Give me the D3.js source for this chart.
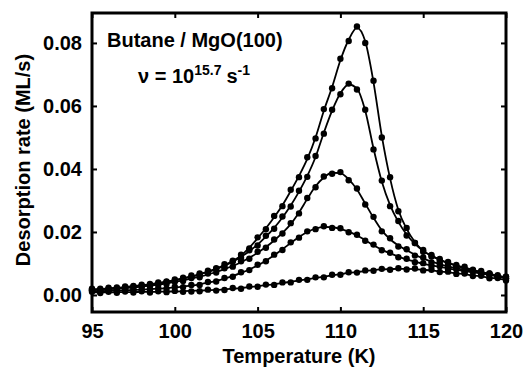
<!DOCTYPE html>
<html>
<head>
<meta charset="utf-8">
<script src="https://cdn.jsdelivr.net/npm/d3@7"></script>
<style>
  body { margin: 0; background: #fff; }
  text { font-family: "Liberation Sans", Arial, sans-serif; font-weight: bold; }
</style>
</head>
<body>
<div id="chart"></div>
<script>
// Temperature grid (K)
const temps = [95, 95.5, 96, 96.5, 97, 97.5, 98, 98.5, 99, 99.5,
  100, 100.5, 101, 101.5, 102, 102.5, 103, 103.5, 104, 104.5,
  105, 105.5, 106, 106.5, 107, 107.5, 108, 108.5, 109, 109.5,
  110, 110.5, 111, 111.5, 112, 112.5, 113, 113.5, 114, 114.5,
  115, 115.5, 116, 116.5, 117, 117.5, 118, 118.5, 119, 119.5, 120];

// Fitted desorption rate (ML/s), one array per coverage
const fit1 = [.0018, .0019, .0021, .0023, .0025, .0028, .0031, .0034, .0038, .0042,
  .0047, .0053, .0059, .0066, .0074, .0084, .0095, .0108, .0125, .0150,
  .0180, .0212, .0247, .0285, .0330, .0378, .0432, .0500, .0585, .0660,
  .0745, .0810, .0848, .0805, .0675, .0505, .0370, .0270, .0210, .0168,
  .0140, .0125, .0112, .0101, .0093, .0085, .0078, .0072, .0066, .0059, .0053];
const fit2 = [.0017, .0018, .0020, .0022, .0024, .0027, .0030, .0033, .0037, .0041,
  .0046, .0052, .0058, .0065, .0073, .0082, .0093, .0106, .0121, .0139,
  .0160, .0185, .0213, .0246, .0284, .0328, .0378, .0438, .0515, .0585,
  .0640, .0668, .0655, .0585, .0465, .0360, .0285, .0232, .0192, .0162,
  .0140, .0124, .0112, .0102, .0094, .0087, .0080, .0073, .0067, .0061, .0055];
const fit3 = [.0016, .0017, .0018, .0020, .0022, .0024, .0027, .0030, .0033, .0037,
  .0041, .0046, .0052, .0058, .0065, .0073, .0082, .0092, .0104, .0118,
  .0134, .0152, .0173, .0197, .0225, .0262, .0305, .0345, .0373, .0388,
  .0387, .0367, .0335, .0290, .0245, .0205, .0177, .0157, .0142, .0128,
  .0116, .0106, .0098, .0091, .0085, .0080, .0075, .0070, .0065, .0060, .0055];
const fit4 = [.0012, .0012, .0013, .0014, .0015, .0016, .0017, .0019, .0020, .0022,
  .0024, .0027, .0030, .0034, .0039, .0045, .0052, .0060, .0070, .0081,
  .0094, .0109, .0126, .0145, .0165, .0184, .0200, .0211, .0216, .0215,
  .0210, .0201, .0189, .0174, .0158, .0144, .0132, .0122, .0113, .0106,
  .0099, .0094, .0089, .0084, .0080, .0076, .0072, .0068, .0064, .0060, .0056];
const fit5 = [.0008, .0008, .0008, .0009, .0009, .0009, .0010, .0010, .0010, .0011,
  .0011, .0012, .0013, .0014, .0015, .0016, .0018, .0020, .0022, .0025,
  .0028, .0031, .0034, .0038, .0042, .0046, .0050, .0054, .0058, .0062,
  .0066, .0070, .0073, .0076, .0079, .0081, .0082, .0083, .0083, .0082,
  .0080, .0078, .0075, .0072, .0069, .0066, .0062, .0059, .0055, .0052, .0048];

// Measured desorption rate (ML/s)
const meas1 = [.0020, .0017, .0023, .0021, .0027, .0026, .0033, .0032, .0040, .0041,
  .0049, .0052, .0062, .0064, .0077, .0083, .0098, .0106, .0128, .0148,
  .0183, .0209, .0251, .0282, .0334, .0374, .0437, .0497, .0590, .0656,
  .0750, .0806, .0852, .0800, .0680, .0500, .0374, .0266, .0213, .0165,
  .0143, .0122, .0114, .0099, .0095, .0083, .0080, .0070, .0068, .0057, .0052];
const meas2 = [.0014, .0020, .0018, .0024, .0022, .0029, .0028, .0035, .0035, .0043,
  .0044, .0055, .0056, .0068, .0071, .0085, .0090, .0109, .0118, .0142,
  .0157, .0188, .0210, .0249, .0281, .0331, .0375, .0441, .0512, .0588,
  .0637, .0671, .0652, .0588, .0462, .0363, .0282, .0235, .0189, .0165,
  .0137, .0127, .0109, .0105, .0091, .0090, .0077, .0076, .0064, .0063, .0052];
const meas3 = [.0018, .0015, .0020, .0018, .0024, .0022, .0029, .0028, .0035, .0035,
  .0043, .0044, .0054, .0056, .0068, .0071, .0085, .0090, .0107, .0115,
  .0137, .0150, .0176, .0195, .0228, .0259, .0308, .0342, .0376, .0385,
  .0390, .0364, .0338, .0287, .0248, .0202, .0180, .0154, .0145, .0125,
  .0119, .0103, .0101, .0088, .0088, .0077, .0078, .0067, .0068, .0057, .0058];
const meas4 = [.0014, .0010, .0015, .0012, .0017, .0014, .0019, .0017, .0022, .0020,
  .0026, .0025, .0032, .0032, .0041, .0043, .0054, .0058, .0072, .0079,
  .0096, .0107, .0128, .0143, .0167, .0182, .0202, .0209, .0218, .0213,
  .0212, .0199, .0191, .0172, .0160, .0142, .0134, .0120, .0115, .0104,
  .0101, .0092, .0091, .0082, .0082, .0074, .0074, .0066, .0066, .0058, .0058];
const meas5 = [.0010, .0006, .0010, .0007, .0011, .0008, .0012, .0008, .0012, .0009,
  .0013, .0010, .0011, .0012, .0017, .0014, .0016, .0022, .0020, .0027,
  .0026, .0033, .0032, .0040, .0040, .0048, .0048, .0056, .0056, .0064,
  .0064, .0072, .0071, .0078, .0077, .0083, .0080, .0085, .0081, .0084,
  .0078, .0080, .0073, .0074, .0067, .0068, .0060, .0061, .0053, .0054, .0046];

const xTicks = [95, 100, 105, 110, 115, 120];
const yTicks = [0, 0.02, 0.04, 0.06, 0.08];

const fits = [fit1, fit2, fit3, fit4, fit5];
const measured = [meas1, meas2, meas3, meas4, meas5];

// Dimensions
const margin = {top: 13, right: 17, bottom: 57, left: 92};
const width = 523 - margin.left - margin.right;
const height = 369 - margin.top - margin.bottom;

const svg = d3.select("#chart")
  .append("svg")
  .attr("width", 523)
  .attr("height", 369)
  .append("g")
  .attr("transform", `translate(${margin.left},${margin.top})`);

// Scales
const x = d3.scaleLinear().domain([95, 120]).range([0, width]);
const y = d3.scaleLinear().domain([-0.0054, 0.0895]).range([height, 0]);

// Axes with inward ticks on all four sides
function styleAxis(g) {
  g.select(".domain").remove();
  g.selectAll("line").attr("stroke", "#000").attr("stroke-width", 2);
  g.selectAll("text")
    .attr("fill", "#000")
    .style("font-family", "'Liberation Sans', Arial, sans-serif")
    .style("font-weight", "bold")
    .style("font-size", "20px");
}

svg.append("g")
  .attr("transform", `translate(0,${height})`)
  .call(d3.axisBottom(x).tickValues(xTicks).tickSizeInner(-5).tickSizeOuter(0).tickPadding(12))
  .call(styleAxis);

svg.append("g")
  .call(d3.axisTop(x).tickValues(xTicks).tickSizeInner(-5).tickSizeOuter(0).tickFormat(""))
  .call(styleAxis);

svg.append("g")
  .call(d3.axisLeft(y).tickValues(yTicks).tickFormat(d3.format(".2f")).tickSizeInner(-5).tickSizeOuter(0).tickPadding(10))
  .call(styleAxis);

svg.append("g")
  .attr("transform", `translate(${width},0)`)
  .call(d3.axisRight(y).tickValues(yTicks).tickSizeInner(-5).tickSizeOuter(0).tickFormat(""))
  .call(styleAxis);

// Fitted lines
const line = d3.line()
  .x((d, i) => x(temps[i]))
  .y(d => y(d))
  .curve(d3.curveMonotoneX);

svg.selectAll(".fit")
  .data(fits)
  .enter()
  .append("path")
  .attr("class", "fit")
  .attr("fill", "none")
  .attr("stroke", "#000")
  .attr("stroke-width", 1.8)
  .attr("d", line);

// Measured points
measured.forEach(series => {
  svg.append("g")
    .selectAll("circle")
    .data(series)
    .enter()
    .append("circle")
    .attr("cx", (d, i) => x(temps[i]))
    .attr("cy", d => y(d))
    .attr("r", 3.2)
    .attr("fill", "#000");
});

// Frame
svg.append("rect")
  .attr("x", 0)
  .attr("y", 0)
  .attr("width", width)
  .attr("height", height)
  .attr("fill", "none")
  .attr("stroke", "#000")
  .attr("stroke-width", 3);

// Annotations
svg.append("text")
  .attr("x", 15)
  .attr("y", 34)
  .style("font-size", "20px")
  .text("Butane / MgO(100)");

const nu = svg.append("text")
  .attr("x", 46)
  .attr("y", 70)
  .style("font-size", "20px");
nu.append("tspan").text("ν = 10");
nu.append("tspan").attr("dy", -8).style("font-size", "14px").text("15.7");
nu.append("tspan").attr("dy", 8).attr("dx", 5).text("s");
nu.append("tspan").attr("dy", -8).style("font-size", "14px").text("-1");

// Axis labels
svg.append("text")
  .attr("x", width / 2)
  .attr("y", height + 51)
  .attr("text-anchor", "middle")
  .style("font-size", "20px")
  .text("Temperature (K)");

svg.append("text")
  .attr("transform", "rotate(-90)")
  .attr("x", -(160 - margin.top))
  .attr("y", -margin.left + 30)
  .attr("text-anchor", "middle")
  .style("font-size", "20px")
  .text("Desorption rate (ML/s)");
</script>
</body>
</html>
